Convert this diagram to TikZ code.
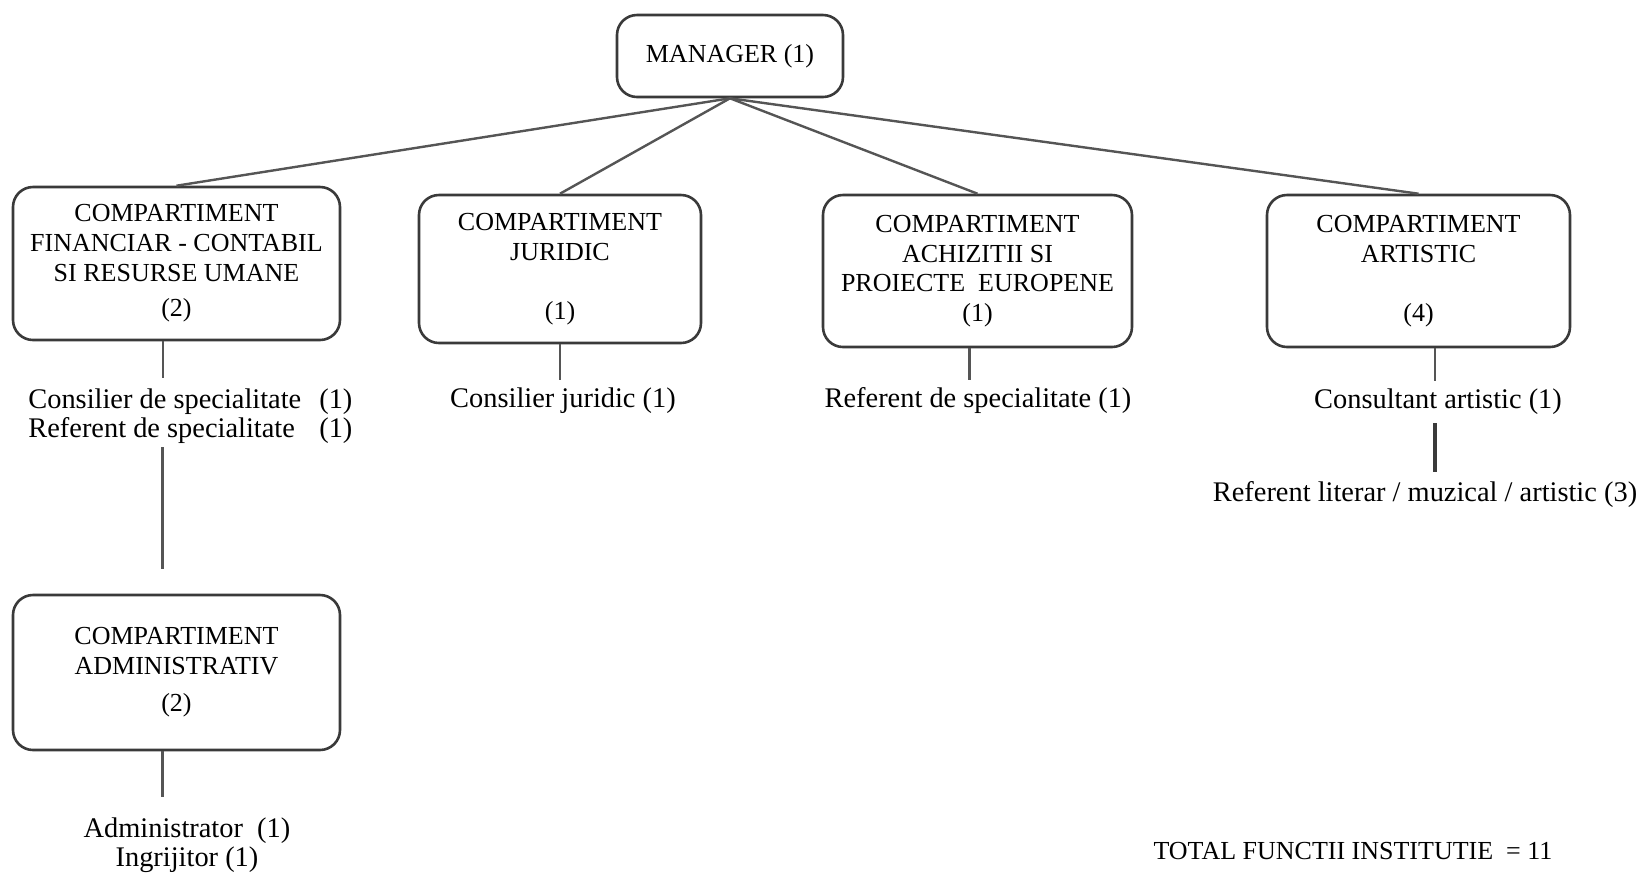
\documentclass[tikz,border=0pt]{standalone}
\usepackage{fontspec}
\setmainfont{Liberation Serif}
\usetikzlibrary{positioning}
\definecolor{framegray}{HTML}{3A3A3A}
\definecolor{linkgray}{HTML}{555555}
\tikzset{
  unitbox/.style={draw=framegray,line width=1.3pt,rounded corners=10pt,align=center,inner sep=4pt,font=\fontsize{13}{14.8}\selectfont},
  staff/.style={align=center,inner sep=0pt,font=\fontsize{14.2}{14.8}\selectfont},
  link/.style={draw=linkgray,line width=1.2pt},
  boldlink/.style={draw=framegray,line width=2pt}
}

\begin{document}
\begin{tikzpicture}[x=0.5pt,y=0.5pt]
  \useasboundingbox (0,0) rectangle (1651,-875);
  \node[unitbox,minimum width=113pt,minimum height=41pt] (mgr) at (730,-56) {MANAGER (1)};
  \node[unitbox,minimum width=163.5pt,minimum height=76.5pt] (fin) at (176.5,-263.5) {COMPARTIMENT\\FINANCIAR - CONTABIL\\SI RESURSE UMANE\\[3pt](2)};
  \node[unitbox,minimum width=141pt,minimum height=74pt] (jur) at (560,-269) {COMPARTIMENT\\JURIDIC\\[14.8pt](1)};
  \node[unitbox,minimum width=154.5pt,minimum height=76pt] (ach) at (977.5,-271) {COMPARTIMENT\\ACHIZITII SI\\PROIECTE~~EUROPENE\\(1)};
  \node[unitbox,minimum width=151.5pt,minimum height=76pt] (art) at (1418.5,-271) {COMPARTIMENT\\ARTISTIC\\[14.8pt](4)};
  \node[unitbox,minimum width=163.5pt,minimum height=77.5pt] (adm) at (176.5,-672.5) {COMPARTIMENT\\ADMINISTRATIV\\[4pt](2)};
  \node[staff,anchor=north west] (finstaff) at (28,-387) {\begin{tabular}{@{}l@{\hspace{9pt}}l@{}}Consilier de specialitate & (1)\\Referent de specialitate & (1)\end{tabular}};
  \node[staff] (jurstaff) at (563,-401) {Consilier juridic (1)};
  \node[staff] (achstaff) at (978,-401) {Referent de specialitate (1)};
  \node[staff] (artstaff) at (1438,-402) {Consultant artistic (1)};
  \node[staff] (artref) at (1425,-495) {Referent literar / muzical / artistic (3)};
  \node[staff] (admstaff) at (187,-845) {Administrator~~(1)\\Ingrijitor (1)};
  \node[unitbox,draw=none,inner sep=0pt] (total) at (1353,-851) {TOTAL FUNCTII INSTITUTIE~~= 11};
  \draw[link] (mgr.south) -- (fin.north);
  \draw[link] (mgr.south) -- (jur.north);
  \draw[link] (mgr.south) -- (ach.north);
  \draw[link] (mgr.south) -- (art.north);
  \draw[link,shorten >=4.5pt] (fin.260) -- (fin.260 |- finstaff.north);
  \draw[link,shorten >=12.5pt] (adm.100 |- finstaff.south) -- (adm.100);
  \draw[link,shorten >=4pt] (jur.south) -- (jur.south |- jurstaff.north);
  \draw[link,shorten >=4pt] (ach.264) -- (ach.264 |- achstaff.north);
  \draw[link,shorten >=4pt] (art.282) -- (art.282 |- artstaff.north);
  \draw[boldlink,shorten <=4pt,shorten >=5pt] (artstaff.south -| art.282) -- (art.282 |- artref.north);
  \draw[link,shorten >=10pt] (adm.260) -- (adm.260 |- admstaff.north);
\end{tikzpicture}
\end{document}
